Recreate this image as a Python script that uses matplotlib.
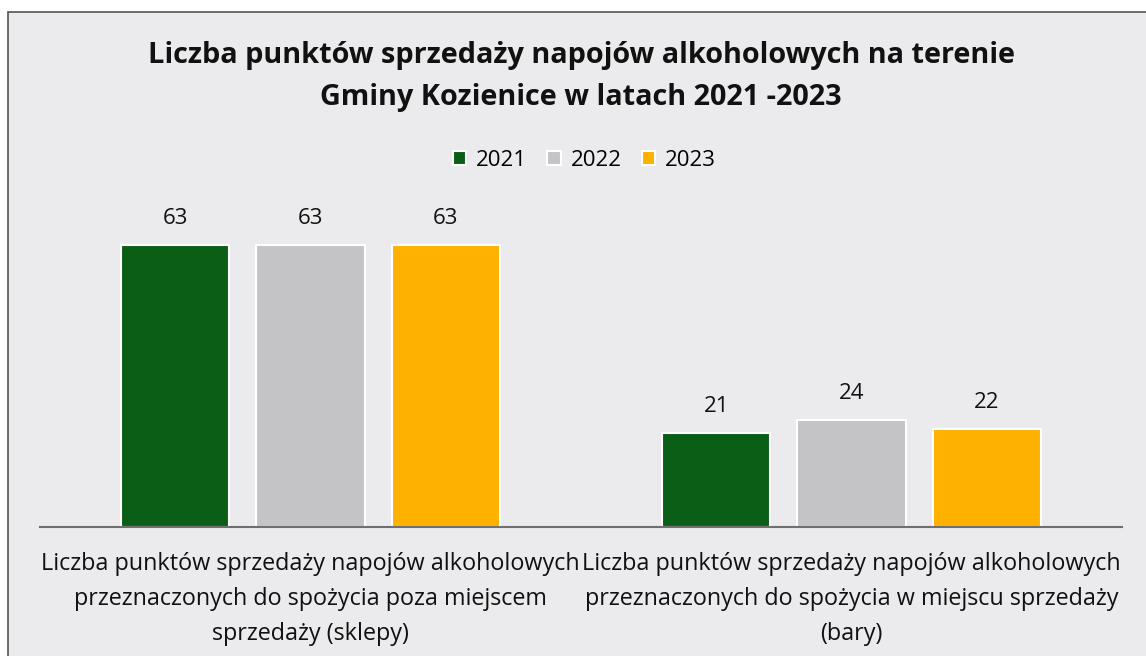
import numpy as np
import matplotlib.pyplot as plt
from matplotlib.patches import Rectangle

plt.rcParams['font.family'] = ['Open Sans', 'DejaVu Sans']

categories = ['Liczba punktów sprzedaży napojów alkoholowych\nprzeznaczonych do spożycia poza miejscem\nsprzedaży (sklepy)',
              'Liczba punktów sprzedaży napojów alkoholowych\nprzeznaczonych do spożycia w miejscu sprzedaży\n(bary)']
years = ['2021', '2022', '2023']
values = {'2021': [63, 21], '2022': [63, 24], '2023': [63, 22]}
colors = ['#0b5e15', '#c4c4c6', '#ffb100']

bg = '#ebeaec'
fig = plt.figure(figsize=(11.46, 6.56), dpi=100)
fig.patch.set_facecolor('white')
# chart frame
fig.patches.append(Rectangle((8 / 1146, -0.01), 1.02, 1 - 12 / 656 + 0.01, transform=fig.transFigure,
                             facecolor=bg, edgecolor='#555555', linewidth=1.2, zorder=-5))

ax = fig.add_axes([40 / 1146, (656 - 527) / 656, 1082 / 1146, (527 - 195) / 656])
ax.set_facecolor('none')

x = np.arange(len(categories))
w = 0.2
for i, y in enumerate(years):
    bars = ax.bar(x + (i - 1) * 0.25, values[y], w, color=colors[i], edgecolor='white',
                  linewidth=1.5, label=y)
    for b, v in zip(bars, values[y]):
        ax.text(b.get_x() + b.get_width() / 2, v + 3.5, str(v), ha='center', va='bottom',
                fontsize=16, color='#111111')

ax.set_xlim(-0.5, 1.5)
ax.set_ylim(0, 63 * 332 / 282)
ax.set_yticks([])
ax.set_xticks(x)
ax.set_xticklabels(categories, fontsize=16.8, linespacing=1.6, color='#111111')
ax.tick_params(axis='x', length=0, pad=18)
for s in ['top', 'right', 'left']:
    ax.spines[s].set_visible(False)
ax.spines['bottom'].set_color('#6f6f6f')
ax.spines['bottom'].set_linewidth(1.5)

fig.text(0.507, 1 - 55 / 656, 'Liczba punktów sprzedaży napojów alkoholowych na terenie',
         ha='center', va='center', fontsize=20.8, fontweight='bold', color='#111111')
fig.text(0.507, 1 - 97 / 656, 'Gminy Kozienice w latach 2021 -2023',
         ha='center', va='center', fontsize=20.8, fontweight='bold', color='#111111')

fig.legend(loc='center', bbox_to_anchor=(0.51, 1 - 160 / 656), ncol=3, frameon=False,
           fontsize=16, handlelength=0.6, handleheight=0.6, handletextpad=0.45, columnspacing=0.9)

fig.savefig('out.png', dpi=100, facecolor=fig.get_facecolor())
